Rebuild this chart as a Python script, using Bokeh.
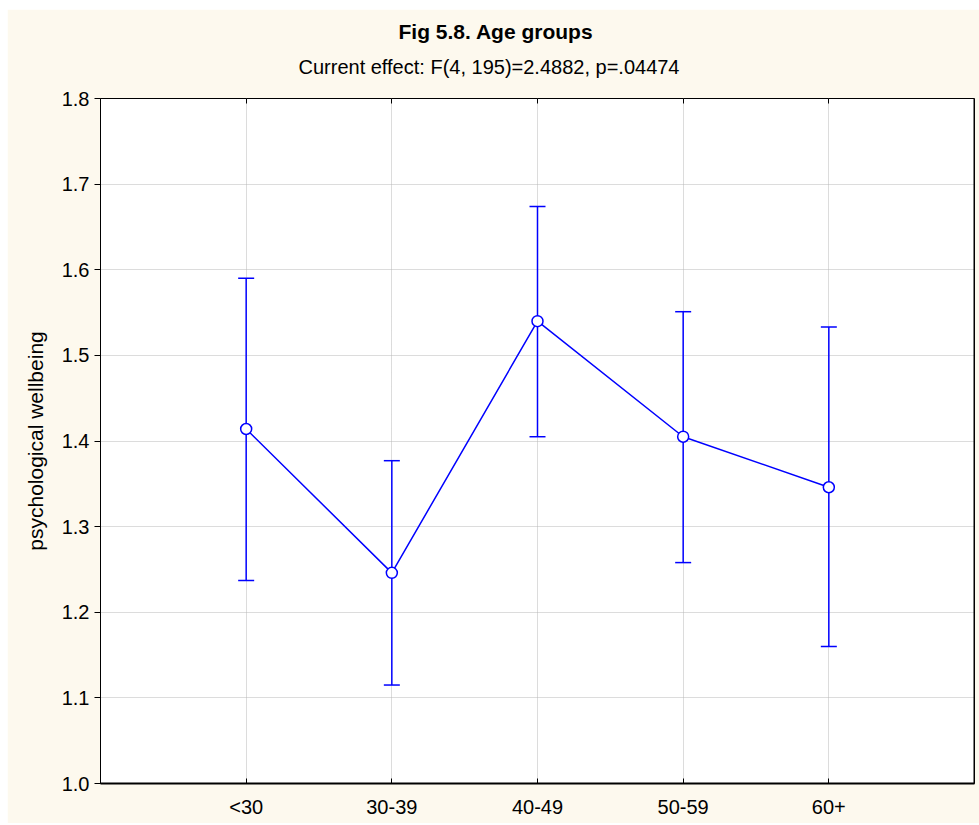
from bokeh.plotting import figure
from bokeh.models import (Whisker, TeeHead, ColumnDataSource, Title, FixedTicker,
                          LinearAxis, Range1d, Span, Spacer)
from bokeh.layouts import column, row
from bokeh.embed import file_html
from bokeh.resources import INLINE

# Mean psychological wellbeing by age group, with 95% confidence limits
groups = ["<30", "30-39", "40-49", "50-59", "60+"]
means = [1.414, 1.246, 1.540, 1.405, 1.346]
upper = [1.590, 1.377, 1.674, 1.551, 1.533]
lower = [1.237, 1.115, 1.405, 1.258, 1.160]
y_ticks = [1.0, 1.1, 1.2, 1.3, 1.4, 1.5, 1.6, 1.7, 1.8]

title_text = "Fig 5.8. Age groups"
subtitle_text = "Current effect: F(4, 195)=2.4882, p=.04474"
y_label = "psychological wellbeing"

FONT = "Liberation Sans"
BLUE = "#0000ff"
CREAM = "#fdf9ee"

xpos = list(range(1, len(groups) + 1))
src = ColumnDataSource(dict(x=xpos, mean=means, upper=upper, lower=lower))

p = figure(width=972, height=814, output_backend="svg", toolbar_location=None,
           x_range=Range1d(0, len(groups) + 1), y_range=Range1d(1.0, 1.8),
           min_border_left=93, min_border_right=5, min_border_top=89,
           min_border_bottom=40)
p.title = None
p.background_fill_color = "white"
p.border_fill_color = CREAM
p.outline_line_color = "black"
p.outline_line_width = 1

xa = p.below[0]
ya = p.left[0]

# short inward ticks along the top edge of the frame
top = LinearAxis(ticker=FixedTicker(ticks=xpos), major_tick_in=5,
                 major_tick_out=0, minor_tick_line_color=None,
                 axis_line_color=None, major_label_text_font_size="0px",
                 major_label_standoff=0,
                 major_label_overrides={x: "" for x in xpos})
p.add_layout(top, "above")

# titles, stacked above the frame
p.add_layout(Title(text=subtitle_text, align="left", text_font=FONT,
                   text_font_size="20px", text_font_style="normal",
                   text_color="black", offset=198, standoff=42), "above")
p.add_layout(Title(text=title_text, align="left", text_font=FONT,
                   text_font_size="21px", text_font_style="bold",
                   text_color="black", offset=298, standoff=-20), "above")

# category axis along the bottom
xa.ticker = FixedTicker(ticks=xpos)
xa.major_label_overrides = {x: g for x, g in zip(xpos, groups)}
xa.major_tick_in = 5
xa.major_tick_out = 0
xa.minor_tick_line_color = None
xa.major_label_standoff = 12
xa.major_label_text_font = FONT
xa.major_label_text_font_size = "20px"
xa.major_label_text_color = "black"
xa.axis_line_color = "black"
xa.axis_line_width = 2

# value axis
ya.ticker = FixedTicker(ticks=y_ticks)
ya.major_label_overrides = {t: f"{t:.1f}" for t in y_ticks}
ya.major_tick_in = 0
ya.major_tick_out = 6
ya.minor_tick_line_color = None
ya.major_label_standoff = 5
ya.major_label_text_font = FONT
ya.major_label_text_font_size = "20px"
ya.major_label_text_color = "black"
ya.axis_label = y_label
ya.axis_label_text_font = FONT
ya.axis_label_text_font_size = "21px"
ya.axis_label_text_font_style = "normal"
ya.axis_label_text_color = "black"
ya.axis_label_standoff = 12
ya.axis_line_color = "black"

# thicker right edge of the frame
p.add_layout(Span(location=len(groups) + 1, dimension="height",
                  line_color="black", line_width=2))

# dotted grid
for g in (p.xgrid[0], p.ygrid[0]):
    g.grid_line_color = "#b8b8b8"
    g.grid_line_dash = "1 1"
    g.grid_line_width = 1
p.xgrid[0].ticker = FixedTicker(ticks=xpos)
p.ygrid[0].ticker = FixedTicker(ticks=y_ticks)

# error bars, mean line and markers
p.add_layout(Whisker(source=src, base="x", upper="upper", lower="lower",
                     line_color=BLUE, line_width=1.5,
                     upper_head=TeeHead(size=16, line_color=BLUE, line_width=1.5),
                     lower_head=TeeHead(size=16, line_color=BLUE, line_width=1.5)))
p.line("x", "mean", source=src, line_color=BLUE, line_width=1.5)
p.scatter("x", "mean", source=src, size=11, fill_color="white",
          line_color=BLUE, line_width=1.5)

layout = column(Spacer(height=9), row(Spacer(width=7), p))
open("out.html", "w").write(file_html(layout, INLINE))
